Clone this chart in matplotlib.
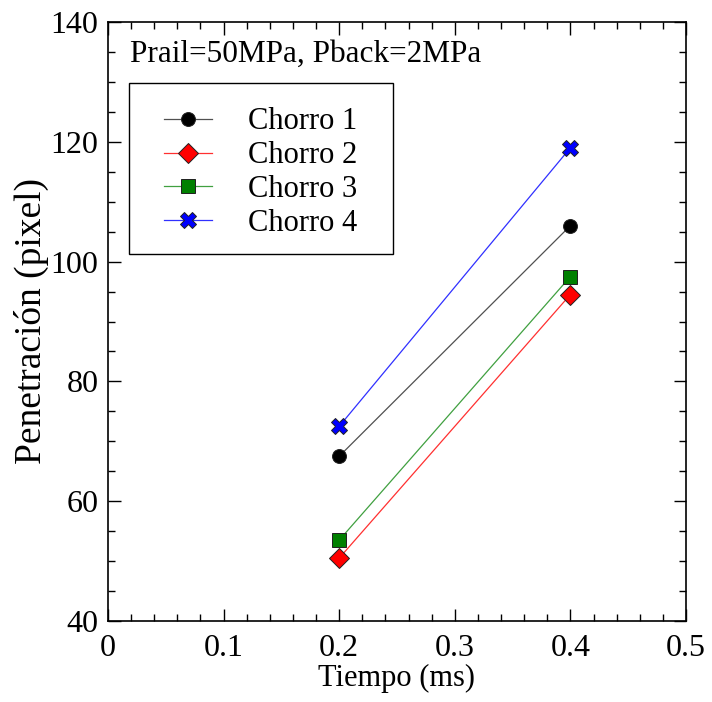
import matplotlib
matplotlib.use("Agg")
import matplotlib.pyplot as plt
from matplotlib.patches import Rectangle
from matplotlib.ticker import MultipleLocator

plt.rcParams['font.family'] = ['Liberation Serif', 'DejaVu Serif']

tiempo = [0.2, 0.4]
chorro_1 = [67.5, 106.0]
chorro_2 = [50.5, 94.5]
chorro_3 = [53.5, 97.5]
chorro_4 = [72.5, 119.0]
labels = ["Chorro 1", "Chorro 2", "Chorro 3", "Chorro 4"]

W, H = 712, 702
L, R, T, B = 108, 686, 22, 621

fig = plt.figure(figsize=(W/100, H/100), dpi=100)
ax = fig.add_axes([L/W, 1-B/H, (R-L)/W, (B-T)/H])


def ax_x(px):
    return (px - L) / (R - L)


def ax_y(py):
    return (B - py) / (B - T)


series = [
    (chorro_1, '#505050', 'o', 'black', 10),
    (chorro_2, '#ff3030', 'D', 'red', 9.8),
    (chorro_3, '#40a040', 's', 'green', 10),
    (chorro_4, '#3030ff', 'X', 'blue', 11.5),
]
for (vals, lc, mk, fc, ms), lab in zip(series, labels):
    ax.plot(tiempo, vals, color=lc, lw=0.9, marker=mk, markersize=ms,
            markerfacecolor=fc, markeredgecolor='#202020', markeredgewidth=0.7,
            label=lab)

ax.set_xlim(0, 0.5)
ax.set_ylim(40, 140)
ax.xaxis.set_major_locator(MultipleLocator(0.1))
ax.xaxis.set_minor_locator(MultipleLocator(0.02))
ax.yaxis.set_major_locator(MultipleLocator(20))
ax.yaxis.set_minor_locator(MultipleLocator(5))
ax.set_xticks([0, 0.1, 0.2, 0.3, 0.4, 0.5])
ax.set_xticklabels(["0", "0.1", "0.2", "0.3", "0.4", "0.5"])
ax.tick_params(which='both', direction='in', top=True, right=True, labelsize=23, width=1)
ax.tick_params(which='major', length=9)
ax.tick_params(which='minor', length=5)
ax.tick_params(axis='x', which='major', pad=9)
ax.tick_params(axis='y', which='major', pad=7)
for s in ax.spines.values():
    s.set_linewidth(1.2)

ax.set_xlabel("Tiempo (ms)", fontsize=22, labelpad=1)
ax.set_ylabel("Penetración (pixel)", fontsize=27, labelpad=1)

ax.text(ax_x(130), ax_y(62), "Prail=50MPa, Pback=2MPa", transform=ax.transAxes,
        fontsize=22.5, ha='left', va='baseline')

# legend entries (frameless) plus a separate box around them
leg = ax.legend(loc='upper left', bbox_to_anchor=(ax_x(164), ax_y(107.4)), fontsize=22,
                frameon=False, borderaxespad=0, handlelength=1.57, handletextpad=1.18,
                labelspacing=0.16, borderpad=0)
box = Rectangle((ax_x(129), ax_y(254)), ax_x(393) - ax_x(129), ax_y(83) - ax_y(254),
                transform=ax.transAxes, fill=False, edgecolor='black', lw=1.0, zorder=4)
ax.add_patch(box)

fig.savefig("out.png", dpi=100)
